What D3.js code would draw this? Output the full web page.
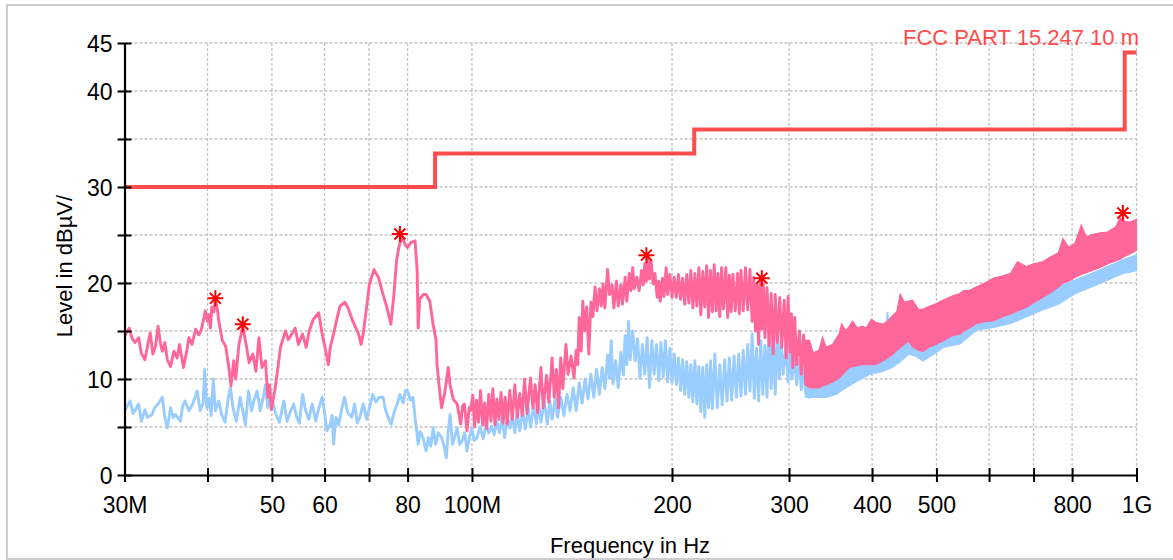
<!DOCTYPE html>
<html>
<head>
<meta charset="utf-8">
<script src="https://cdn.jsdelivr.net/npm/d3@7"></script>
<style>
  html, body { margin: 0; padding: 0; background: #fff; }
  svg { display: block; font-family: "Liberation Sans", Arial, Helvetica, sans-serif; }
</style>
</head>
<body>
<svg id="chart" width="1173" height="560"></svg>
<script>
// ---------------- DATA (frequency in MHz, level in dBµV/m) ----------------
const xTickValues = [30, 40, 50, 60, 70, 80, 100, 200, 300, 400, 500, 600, 700, 800, 1000];
const xTickLabels = ["30M", "", "50", "60", "", "80", "100M", "200", "300", "400", "500", "", "", "800", "1G"];
const xGridValues = [40, 50, 60, 70, 80, 100, 200, 300, 400, 500, 600, 700, 800, 1000];
const yTickValues = [0, 5, 10, 15, 20, 25, 30, 35, 40, 45];
const yTickLabels = ["0", "", "10", "", "20", "", "30", "", "40", "45"];

const limitName = "FCC PART 15.247 10 m";
const limitFreq = [30, 88, 216, 960, 1000];
const limitLevel = [30, 33.5, 36, 44, 44];

// Peak trace (pink) - sparse part as [freq, level]
const peakTrace = [
 [30.0,14.5],[30.5,15.3],[30.8,14.2],[31.1,13.8],[31.5,14.3],[31.8,12.7],[32.2,12.0],[32.5,13.5],[32.8,14.8],[33.1,12.6],
 [33.4,13.4],[33.7,15.5],[34.0,13.6],[34.2,12.9],[34.5,13.8],[34.8,12.0],[35.2,11.3],[35.6,12.9],[36.0,12.2],[36.3,13.6],
 [36.8,11.2],[37.2,12.8],[37.5,14.3],[37.9,13.6],[38.4,15.2],[38.8,14.6],[39.1,15.0],[39.4,16.0],[39.7,17.1],[40.0,16.0],
 [40.2,16.7],[40.4,15.3],[40.6,17.5],[40.9,17.0],[41.1,18.3],[41.4,17.2],[41.6,16.0],[42.1,14.0],[42.6,13.4],[43.0,11.5],
 [43.4,9.3],[43.8,11.9],[44.1,10.0],[44.6,13.6],[45.2,15.5],[45.8,13.3],[46.2,11.7],[46.8,12.6],[47.3,10.8],[47.8,14.3],
 [48.3,11.2],[48.9,11.9],[49.3,8.1],[49.6,9.4],[49.9,6.8],[50.5,8.8],[50.9,10.5],[51.5,13.3],[52.4,15.0],[52.9,14.1],
 [53.6,14.7],[54.2,15.3],[54.8,13.6],[55.6,14.7],[56.3,13.3],[56.9,15.0],[57.7,16.2],[58.8,16.9],[59.5,14.7],[60.1,13.3],
 [60.8,11.5],[61.2,13.3],[61.9,14.7],[62.5,16.0],[63.3,17.6],[64.4,18.0],[65.1,17.4],[66.2,16.0],[67.5,14.7],[68.1,13.6],
 [68.6,14.7],[69.3,17.1],[70.1,19.9],[71.2,21.4],[72.3,20.6],[73.5,18.8],[74.5,17.4],[75.5,15.7],[76.3,18.8],[77.0,22.3],
 [77.6,23.7],[78.5,24.9],[79.3,24.0],[80.0,23.7],[80.9,24.2],[82.1,24.4],[82.7,21.3],[83.0,15.3],[83.4,18.3],[84.5,18.8],
 [85.3,18.8],[86.4,18.1],[87.4,15.7],[88.3,14.0],[88.6,11.5],[89.3,9.1],[90.0,7.0],[91.0,8.6],[92.1,11.2],[92.7,9.4],
 [93.7,7.9],[95.0,7.4],[95.6,6.3],[96.2,5.3],[96.8,7.2],[97.4,7.4],[98.3,4.6],[99.0,7.0],[99.5,6.7],
 [100.3,8.3],[100.9,5.0],[101.6,7.8],[102.3,5.5],[103.0,8.8],[103.8,5.2],[104.5,7.5],[105.2,4.8],[106.0,8.4],[106.8,5.6],
 [107.5,9.0],[108.3,5.2],[109.0,7.9],[109.8,5.8],[110.6,8.6],[111.4,5.4],[112.2,8.1],[113.0,5.3],[114.0,8.8],[115.0,5.8],
 [116.0,9.4],[117.0,6.0],[118.0,8.5],[119.0,6.2],[120.0,10.0],[121.0,6.4],[122.5,10.1],[123.5,7.0],[124.5,9.4],[125.5,6.5],
 [127.0,11.2],[128.0,7.0],[129.5,10.4],[130.5,7.6],[132.0,12.2],[133.0,8.1],[134.0,11.0],[135.0,7.0],[136.0,12.2],[137.0,9.0],
 [138.5,13.6],[139.5,10.5],[141.0,12.4],[142.4,10.1],[143.5,13.0],[144.3,11.5],[145.0,16.4],[146.0,12.9],[146.8,18.1],[147.8,15.0],
 [148.8,17.5],[149.9,12.6],[151.0,18.0],[152.0,16.5],[153.2,19.6],[154.2,17.1],[155.5,19.4],[156.5,17.6],[157.5,19.9],[158.5,17.4],
 [160.0,21.4],[161.0,18.8],[162.5,19.8],[163.5,17.4],[165.0,20.2],[166.0,17.6],[167.5,19.8],[168.5,17.8],[170.0,20.6],[171.0,18.1],
 [172.5,21.0],[173.5,19.2],[174.5,21.6],[175.5,19.4],[177.0,20.6],[178.5,19.2],[180.0,21.3],[181.0,19.8],[182.0,22.0],[183.0,20.2],
 [184.0,22.8],[185.0,20.4],[186.0,22.3],[187.4,19.9],[188.5,21.0],[190.0,18.5],[191.0,20.2],[192.0,18.1],[193.5,20.5],[194.5,18.6],
 [196.0,21.6],[197.0,18.8],[198.5,20.9],[200.0,18.5],[201.5,20.6],[203.0,18.5],[204.5,20.9],[206.0,18.3],[207.5,20.5],[209.0,17.8],
 [210.5,20.9],[212.0,17.9],[213.5,21.3],[215.0,17.4],[216.5,21.0],[218.0,17.6],[219.5,21.6],[221.0,16.7],[222.5,21.2],[224.0,17.5],
 [225.5,21.8],[227.0,16.4],[228.5,21.3],[230.0,17.0],[231.5,21.9],[233.0,17.1],[234.5,21.0],[236.0,16.5],[237.5,21.6],[239.0,17.3],
 [241.0,21.6],[242.5,16.4],[244.0,20.8],[245.5,17.0],[247.0,20.9],[249.0,17.1],[251.0,21.0],[252.5,16.8],[254.0,21.3],[256.0,17.1],
 [258.0,21.6],[260.0,17.2],[262.0,21.4],[264.0,16.0],[265.5,20.6],[267.0,15.0],[268.5,19.8],[270.0,13.6],[271.5,20.4],[273.0,15.2],
 [274.5,19.9],[276.0,14.3],[278.0,19.5],[280.0,13.5],[282.0,18.9],[284.0,12.6],[286.0,18.8],[288.0,13.8],[290.5,18.5],[292.5,13.3],
 [295.0,18.2],[297.0,12.2],[299.0,18.6],[301.0,12.8],[302.5,16.8],[304.0,11.2],[306.0,16.4],[308.0,11.5],[311.0,15.0],[313.0,10.5],
 [315.5,14.6],[318.0,9.4],[320.0,13.5],[322.5,9.9],[325.0,12.8],[327.0,9.7]
];
// Peak trace (pink) - dense part as envelope [freq, upper, lower]
const peakBand = [
 [318,14.0,9.4],[322,14.0,9.1],[326,12.7,9.1],[333,13.0,9.1],[337,14.3,9.3],[341,13.3,9.4],[349,13.6,9.7],[357,14.7,10.1],
 [360,15.7,10.4],[365,15.0,10.8],[369,15.4,11.2],[374,16.0,11.3],[380,15.3,11.4],[387,15.5,11.5],[392,15.3,11.5],[399,16.2,11.5],
 [405,15.9,11.5],[415,15.7,11.9],[422,16.0,12.2],[430,16.6,12.6],[436,17.0,13.0],[441,18.8,13.3],[447,18.0,13.6],[454,18.1,14.0],
 [460,18.2,13.4],[470,17.2,13.0],[478,17.3,12.9],[486,17.5,13.3],[498,17.8,13.6],[512,18.2,14.0],[527,18.6,14.5],[543,18.9,14.7],
 [549,19.2,15.0],[560,19.2,15.3],[575,19.6,15.8],[592,20.0,16.0],[610,20.5,16.1],[628,20.7,16.5],[647,21.0,16.8],[662,22.2,17.1],
 [683,21.7,17.5],[702,22.0,18.0],[722,22.2,18.5],[742,22.7,19.0],[763,23.1,19.6],[775,24.6,20.0],[790,23.7,20.2],[808,24.1,20.6],
 [826,26.0,20.9],[840,24.8,21.1],[856,25.0,21.3],[880,25.2,21.6],[904,25.3,22.0],[930,25.8,22.3],[945,26.8,22.5],[954,26.5,22.7],
 [975,26.3,23.0],[1000,26.6,23.4]
];

// Average trace (blue) - sparse part
const avgTrace = [
 [30.0,6.7],[30.3,7.2],[30.6,7.7],[30.9,6.4],[31.1,6.7],[31.5,7.4],[31.8,5.6],[32.2,6.8],[32.5,6.0],[33.0,6.3],
 [33.3,7.0],[33.7,7.4],[34.2,8.1],[34.5,6.0],[34.8,4.9],[35.2,7.0],[35.5,6.0],[35.8,6.3],[36.4,5.6],[36.7,7.2],
 [37.0,7.7],[37.5,6.7],[38.0,7.4],[38.6,8.75],[39.0,6.7],[39.4,7.5],[39.6,11.0],[39.9,7.0],[40.2,8.0],[40.5,6.2],
 [40.8,10.0],[41.1,6.7],[41.6,7.7],[42.0,6.3],[42.5,5.5],[43.0,8.1],[43.3,9.1],[43.7,7.0],[44.2,5.6],[44.8,8.1],
 [45.2,6.7],[45.6,5.2],[46.1,8.75],[46.6,6.7],[47.0,7.8],[47.5,8.75],[48.0,6.7],[48.5,8.0],[48.9,9.4],[49.3,7.0],
 [49.7,8.0],[50.2,7.4],[50.7,6.3],[51.3,5.5],[52.1,7.7],[52.7,5.6],[53.3,6.6],[53.9,7.4],[54.5,6.0],[55.0,5.4],
 [55.6,8.4],[56.2,6.7],[56.8,5.8],[57.5,7.4],[58.2,5.6],[58.8,6.9],[59.5,8.1],[60.0,6.5],[60.5,4.6],[61.2,5.3],
 [61.6,6.2],[61.9,3.2],[62.4,6.0],[63.0,5.2],[63.6,6.7],[64.3,8.1],[65.0,6.5],[65.9,6.0],[66.6,7.4],[67.2,5.4],
 [67.8,6.0],[68.6,7.4],[69.4,5.8],[70.1,7.0],[70.9,8.4],[71.7,7.6],[72.5,8.1],[73.5,8.1],[74.1,6.8],[74.8,6.0],
 [75.6,5.3],[76.4,6.6],[77.2,7.4],[77.9,8.4],[78.8,7.5],[79.4,8.8],[80.0,8.75],[80.8,7.8],[81.5,8.1],[82.1,6.0],
 [82.6,4.5],[83.0,3.2],[83.6,4.5],[84.4,3.9],[85.3,2.5],[86.0,3.9],[86.7,3.0],[87.4,4.9],[88.2,3.2],[89.0,4.4],
 [90.0,3.9],[90.8,3.0],[91.5,1.8],[92.1,4.5],[92.7,6.3],[93.5,3.2],[94.2,4.0],[95.0,4.9],[95.8,3.2],[96.6,3.5],
 [97.5,4.4],[98.3,2.5],[99.2,4.0],[99.9,4.9],[100.8,3.6],[101.8,3.9],[102.8,5.0],[104.0,3.8],[105.0,5.3],[106.0,4.4],
 [107.0,5.1],[108.0,4.2],[109.0,5.6],[110.0,4.4],[111.0,6.0],[112.0,3.9],[113.0,6.0],[114.0,4.9],[115.0,6.2],[116.0,4.4],
 [117.0,6.5],[118.0,4.6],[119.2,6.7],[120.3,4.8],[121.5,7.0],[122.5,5.0],[123.8,7.2],[125.0,5.3],[126.0,7.4],[127.0,5.5],
 [128.5,7.7],[129.8,5.3],[131.0,7.7],[132.0,5.8],[133.5,8.0],[134.5,6.0],[136.0,8.1],[137.5,6.2],[139.0,8.4],[140.5,6.7],
 [142.0,9.1],[143.5,6.7],[145.0,9.6],[146.5,7.5],[148.0,10.0],[149.5,7.9],[151.0,10.5],[152.5,8.1],[154.0,11.0],[155.5,8.4],
 [157.0,11.2],[158.5,9.0],[160.0,12.5],[161.0,10.1],[162.0,14.0],[163.0,9.5],[164.5,11.9],[166.0,9.1],[167.5,12.8],[169.0,10.4],
 [170.0,14.5],[171.0,11.5],[172.0,16.0],[173.0,12.0],[174.5,15.0],[176.0,11.9],[177.5,14.2],[179.0,10.1],[180.5,13.6],[182.0,10.5],
 [183.5,14.3],[185.0,9.1],[186.5,14.0],[188.0,10.5],[189.5,13.6],[191.0,9.8],[192.5,13.8],[194.0,10.2],[195.5,14.0],[197.0,9.7],
 [198.5,13.2],[200.0,9.6],[201.5,12.6],[203.0,9.4],[204.5,12.2],[206.0,8.8],[207.5,12.0],[209.0,8.4],[210.5,11.8],[212.0,8.1],
 [213.5,11.5],[215.0,7.6],[216.5,11.9],[218.0,7.4],[219.5,11.3],[221.0,6.6],[222.5,11.2],[224.0,6.0],[225.5,11.5],[227.0,7.0],
 [228.5,11.9],[230.0,6.9],[232.0,12.6],[234.0,7.0],[236.0,11.5],[238.0,7.3],[240.0,12.0],[242.0,7.7],[244.0,12.2],[246.0,7.8],
 [248.0,12.4],[250.0,8.1],[252.0,12.6],[254.0,8.2],[256.0,13.0],[258.0,8.4],[260.0,13.6],[262.0,8.75],[264.0,14.7],[266.0,8.0],
 [268.0,13.2],[270.0,7.7],[272.0,14.0],[274.0,8.4],[276.0,13.5],[278.0,8.1],[280.0,15.7],[282.0,9.0],[284.0,14.2],[286.0,8.4],
 [288.0,15.3],[290.0,10.0],[292.0,14.0],[294.0,10.5],[297.0,13.6],[299.0,9.7],[301.0,13.3],[303.0,10.0],[306.0,12.2],[308.0,9.4],
 [311.0,12.0],[313.0,8.9],[316.0,11.2],[318.0,8.4],[320.0,11.0],[322.0,8.1],[325.0,10.8],[327.0,8.1]
];
// Average trace (blue) - dense part envelope [freq, upper, lower]
const avgBand = [
 [318,11.0,8.1],[330,10.8,8.1],[341,11.2,8.1],[353,11.9,8.4],[365,11.9,9.1],[378,12.2,9.7],[397,12.6,10.5],[415,12.9,10.8],
 [422,17.0,11.0],[428,13.5,11.2],[441,14.7,11.8],[454,14.4,12.6],[465,14.2,12.4],[477,14.0,11.9],[495,14.6,12.6],[512,15.1,13.3],
 [543,15.4,13.7],[575,16.5,15.1],[610,16.8,15.4],[647,17.2,15.8],[683,17.8,16.5],[722,18.5,17.2],[763,19.6,17.8],[808,20.3,18.9],
 [856,21.0,19.6],[904,21.7,20.3],[954,22.4,21.0],[1000,22.9,21.3]
];

// Final measurement markers
const markerFreq = [41.1, 45.2, 77.9, 183, 273, 954];
const markerLevel = [18.4, 15.7, 25.1, 22.9, 20.5, 27.3];

// ---------------- CHART ----------------
const svg = d3.select("#chart");
const pinkC = "#ff6699", blueC = "#99ccff", limitC = "#ff4d4d";
const FONT = "'Liberation Sans', Arial, sans-serif";

const x = d3.scaleLog().domain([30, 1000]).range([124.5, 1136.5]);
const y = d3.scaleLinear().domain([0, 45]).range([475, 43]);

// frame
svg.append("rect").attr("x", 7).attr("y", 5).attr("width", 1175).attr("height", 554)
  .attr("fill", "#fff").attr("stroke", "#bdbdbd").attr("stroke-width", 1.5);

// grid
const grid = svg.append("g").attr("stroke", "#c2c2c2").attr("stroke-width", 1.3).attr("stroke-dasharray", "3,2");
grid.selectAll("line.v").data(xGridValues).join("line")
  .attr("x1", d => x(d)).attr("x2", d => x(d)).attr("y1", y(45)).attr("y2", y(0));
grid.selectAll("line.h").data(yTickValues.filter(v => v > 0)).join("line")
  .attr("y1", d => y(d)).attr("y2", d => y(d)).attr("x1", x(30)).attr("x2", x(1000));

svg.append("clipPath").attr("id", "clip").append("rect")
  .attr("x", x(30)).attr("y", y(45)).attr("width", x(1000) - x(30) + 1).attr("height", y(0) - y(45));
const plot = svg.append("g").attr("clip-path", "url(#clip)");

const line = d3.line().x(d => x(d[0])).y(d => y(d[1]));
const area = d3.area().x(d => x(d[0])).y0(d => y(d[2])).y1(d => y(d[1]));

// average (blue)
plot.append("path").datum(avgBand).attr("d", area).attr("fill", blueC).attr("stroke", blueC).attr("stroke-width", 1.5);
plot.append("path").datum(avgTrace).attr("d", line).attr("fill", "none").attr("stroke", blueC)
  .attr("stroke-width", 2.9).attr("stroke-linejoin", "round");
// peak (pink)
plot.append("path").datum(peakBand).attr("d", area).attr("fill", pinkC).attr("stroke", pinkC).attr("stroke-width", 1.5);
plot.append("path").datum(peakTrace).attr("d", line).attr("fill", "none").attr("stroke", pinkC)
  .attr("stroke-width", 2.9).attr("stroke-linejoin", "round");

// limit
const limitPts = limitFreq.map((f, i) => [f, limitLevel[i]]);
plot.append("path").datum(limitPts)
  .attr("d", d3.line().x(d => x(d[0])).y(d => y(d[1])).curve(d3.curveStepAfter))
  .attr("fill", "none").attr("stroke", limitC).attr("stroke-width", 4);

// markers
const star = "M-8,0H8M0,-8V8M-5.5,-5.5L5.5,5.5M-5.5,5.5L5.5,-5.5";
svg.append("g").selectAll("path").data(markerFreq).join("path")
  .attr("transform", (d, i) => `translate(${x(d)},${y(markerLevel[i])})`)
  .attr("d", star).attr("stroke", "#ff0000").attr("stroke-width", 2).attr("fill", "none");

// axes
const xAxis = d3.axisBottom(x).tickValues(xTickValues)
  .tickFormat((d, i) => xTickLabels[i]).tickSizeOuter(0);
const gx = svg.append("g").attr("transform", `translate(0,${y(0)})`).call(xAxis);
gx.select(".domain").attr("stroke", "#000").attr("stroke-width", 2.2);
gx.selectAll(".tick line").attr("y1", -7).attr("y2", 7).attr("stroke", "#000").attr("stroke-width", 2);
gx.selectAll(".tick text").attr("y", 38).attr("dy", 0).attr("font-size", 23).attr("fill", "#000")
  .attr("font-family", FONT);

const yAxis = d3.axisLeft(y).tickValues(yTickValues)
  .tickFormat((d, i) => yTickLabels[i]).tickSizeOuter(0);
const gy = svg.append("g").attr("transform", `translate(${x(30)},0)`).call(yAxis);
gy.select(".domain").attr("stroke", "#000").attr("stroke-width", 2.2);
gy.selectAll(".tick line").attr("x1", -7).attr("x2", 7).attr("stroke", "#000").attr("stroke-width", 2);
gy.selectAll(".tick text").attr("x", -12).attr("dy", "0.36em").attr("font-size", 23).attr("fill", "#000")
  .attr("font-family", FONT);

// titles
svg.append("text").attr("x", 630).attr("y", 553).attr("text-anchor", "middle")
  .attr("font-size", 22).attr("fill", "#000").text("Frequency in Hz");
svg.append("text").attr("transform", "translate(72,266) rotate(-90)").attr("text-anchor", "middle")
  .attr("font-size", 22).attr("fill", "#000").text("Level in dBµV/");
svg.append("text").attr("x", 1139).attr("y", 45).attr("text-anchor", "end")
  .attr("font-size", 22).attr("fill", limitC).text(limitName);
</script>
</body>
</html>
